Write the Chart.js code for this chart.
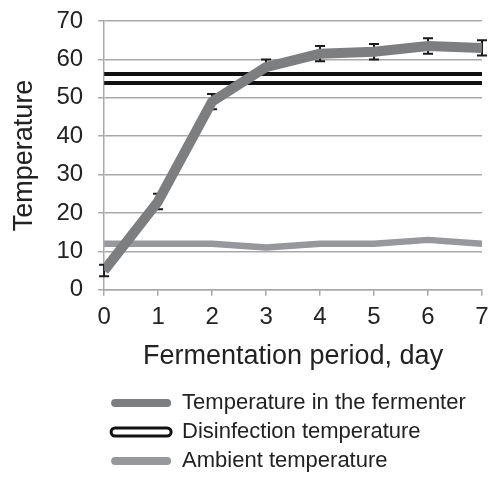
<!DOCTYPE html>
<html>
<head>
<meta charset="utf-8">
<script src="https://cdn.jsdelivr.net/npm/chart.js@4.4.1/dist/chart.umd.min.js"></script>
<style>
  body { margin: 0; background: #fff; }
  .wrap { width: 488px; height: 477px; }
</style>
</head>
<body>
<div class="wrap"><canvas id="tempChart"></canvas></div>
<script>
// days of fermentation
const days = [0, 1, 2, 3, 4, 5, 6, 7];
const fermenterTemp = [5, 23, 49, 58, 61.5, 62, 63.5, 63];
const fermenterErr = [1.5, 2, 2, 2, 2, 2, 2, 2];
const disinfectionTemp = [55, 55];
const disinfectionDays = [0, 7];
const ambientTemp = [12, 12, 12, 11, 12, 12, 13, 12];

const font = "'Liberation Sans', Arial, sans-serif";
const gridGray = '#a9a9a9';

const pts = (xs, ys) => xs.map((x, i) => ({ x: x, y: ys[i] }));

// error bars, drawn just before the fermenter line so the line covers them
const errorBars = {
    id: 'errorBars',
    beforeDatasetDraw(chart, args) {
        if (args.index !== 0) return;
        const { ctx, scales: { x, y } } = chart;
        ctx.save();
        ctx.strokeStyle = '#1a1a1a';
        ctx.lineWidth = 2;
        days.forEach((d, i) => {
            const px = x.getPixelForValue(d);
            const top = y.getPixelForValue(fermenterTemp[i] + fermenterErr[i]);
            const bot = y.getPixelForValue(fermenterTemp[i] - fermenterErr[i]);
            ctx.beginPath();
            ctx.moveTo(px, top); ctx.lineTo(px, bot);
            ctx.moveTo(px - 5, top); ctx.lineTo(px + 5, top);
            ctx.moveTo(px - 5, bot); ctx.lineTo(px + 5, bot);
            ctx.stroke();
        });
        ctx.restore();
    }
};

new Chart(document.getElementById('tempChart'), {
    type: 'line',
    data: {
        datasets: [
            {
                label: 'Temperature in the fermenter',
                data: pts(days, fermenterTemp),
                borderColor: '#7d7e80',
                borderWidth: 10,
                borderJoinStyle: 'round',
                pointRadius: 0,
                legendFill: '#7d7e80', legendStroke: '#7d7e80', legendLine: 0
            },
            {
                // white inside of the double line
                data: pts(disinfectionDays, disinfectionTemp),
                borderColor: '#ffffff',
                borderWidth: 5,
                pointRadius: 0
            },
            {
                label: 'Disinfection temperature',
                data: pts(disinfectionDays, disinfectionTemp),
                borderColor: '#111111',
                borderWidth: 13,
                pointRadius: 0,
                legendFill: '#ffffff', legendStroke: '#111111', legendLine: 3
            },
            {
                label: 'Ambient temperature',
                data: pts(days, ambientTemp),
                borderColor: '#97989b',
                borderWidth: 6.5,
                borderJoinStyle: 'round',
                pointRadius: 0,
                legendFill: '#97989b', legendStroke: '#97989b', legendLine: 0
            }
        ]
    },
    options: {
        responsive: true,
        maintainAspectRatio: false,
        animation: false,
        layout: { padding: { top: 0, left: 0, right: 0, bottom: -5 } },
        plugins: {
            tooltip: { enabled: false },
            legend: {
                position: 'bottom',
                align: 'start',
                fullSize: false,
                labels: {
                    font: { family: font, size: 22 },
                    color: '#222',
                    boxWidth: 60,
                    boxHeight: 8,
                    padding: 7,
                    useBorderRadius: true,
                    borderRadius: 4,
                    generateLabels: chart => chart.data.datasets
                        .map((ds, i) => ({ ds, i }))
                        .filter(o => o.ds.label)
                        .map(o => ({
                            text: o.ds.label,
                            datasetIndex: o.i,
                            fillStyle: o.ds.legendFill,
                            strokeStyle: o.ds.legendStroke,
                            lineWidth: o.ds.legendLine,
                            borderRadius: 4,
                            fontColor: '#222'
                        }))
                }
            }
        },
        scales: {
            x: {
                type: 'linear',
                min: 0,
                max: 7,
                afterFit: s => { s.paddingRight = 6; },
                ticks: { stepSize: 1, color: '#222', padding: 7, font: { family: font, size: 24 } },
                grid: { drawOnChartArea: false, drawTicks: true, tickLength: 6, color: gridGray, lineWidth: 1.5 },
                border: { color: gridGray, width: 1.5 },
                title: {
                    display: true,
                    text: 'Fermentation period, day',
                    color: '#222',
                    font: { family: font, size: 27 },
                    padding: { top: 2, bottom: 12 }
                }
            },
            y: {
                min: 0,
                max: 70,
                afterFit: s => { s.paddingTop = 21; },
                ticks: { stepSize: 10, color: '#222', padding: 15, font: { family: font, size: 24 } },
                grid: { color: gridGray, lineWidth: 1.5, tickLength: 6 },
                border: { color: gridGray, width: 1.5 },
                title: {
                    display: true,
                    text: 'Temperature',
                    color: '#222',
                    font: { family: font, size: 27 },
                    padding: { top: 8, bottom: 1 }
                }
            }
        }
    },
    plugins: [errorBars]
});
</script>
</body>
</html>
